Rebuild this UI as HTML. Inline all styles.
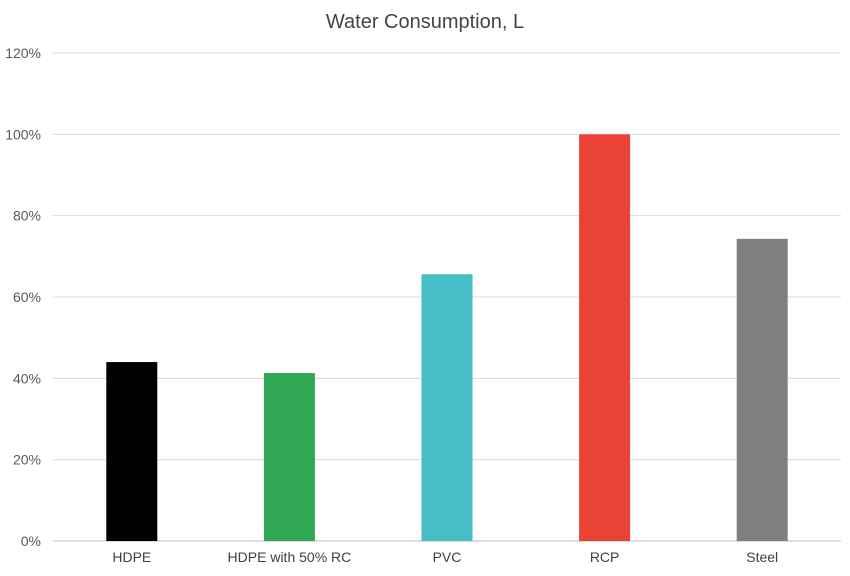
<!DOCTYPE html>
<html><head><meta charset="utf-8"><style>
body{margin:0;background:#fff;}
svg{display:block;font-family:"Liberation Sans",sans-serif;}
</style></head><body>
<svg id="chart" width="850" height="576">
<text x="425" y="28" text-anchor="middle" font-size="20" fill="#444">Water Consumption, L</text>
<g id="grid"></g><g id="bars"></g><g id="labels"></g>
</svg>
<script>
const categories=["HDPE","HDPE with 50% RC","PVC","RCP","Steel"];
const values=[44,41.3,65.6,100,74.3];
const colors=["#000000","#30a853","#46bec6","#ea4335","#7f7f7f"];
const ticks=[0,20,40,60,80,100,120];
const tickLabels=["0%","20%","40%","60%","80%","100%","120%"];
const ns="http://www.w3.org/2000/svg";
const left=53,right=841,y0=541,yTop=53;
const y=v=>y0-(v/120)*(y0-yTop);
const band=(right-left)/categories.length;
const x=i=>left+band*(i+0.5);
const g=document.getElementById('grid'),b=document.getElementById('bars'),l=document.getElementById('labels');
ticks.forEach((t,i)=>{
 const ln=document.createElementNS(ns,'line');
 
 
 ln.setAttribute('x1',left);ln.setAttribute('x2',right);
 ln.setAttribute('y1',y(t));ln.setAttribute('y2',y(t));
 ln.setAttribute('stroke',t===0?'#bfbfbf':'#d9d9d9');ln.setAttribute('stroke-width','1');
 g.appendChild(ln);
 const tx=document.createElementNS(ns,'text');
 
 
 tx.setAttribute('x',41);tx.setAttribute('y',y(t)+5);
 tx.setAttribute('text-anchor','end');tx.setAttribute('font-size','14');tx.setAttribute('fill','#595959');
 tx.textContent=tickLabels[i];g.appendChild(tx);
});
categories.forEach((c,i)=>{
 const r=document.createElementNS(ns,'rect');
 
 
 r.setAttribute('x',x(i)-25.5);r.setAttribute('width',51);
 r.setAttribute('y',y(values[i]));r.setAttribute('height',y0-y(values[i]));
 r.setAttribute('fill',colors[i]);b.appendChild(r);
 const tx=document.createElementNS(ns,'text');
 
 
 tx.setAttribute('x',x(i));tx.setAttribute('y',562);
 tx.setAttribute('text-anchor','middle');tx.setAttribute('font-size','14');tx.setAttribute('fill','#404040');
 tx.textContent=c;l.appendChild(tx);
});
</script>
</body></html>
